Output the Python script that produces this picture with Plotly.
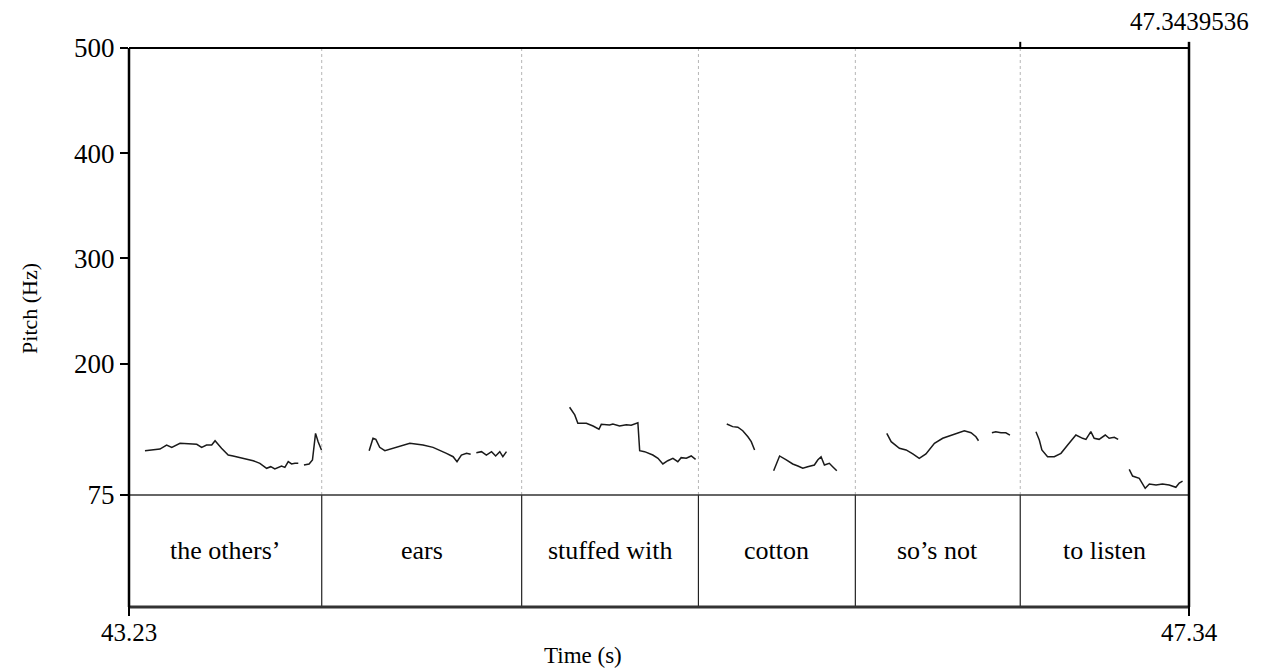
import plotly.graph_objects as go

# ---------------- data ----------------
t_start = 43.23
t_end = 47.3439536
tick_left_label = "43.23"
tick_right_label = "47.34"
cursor_label = "47.3439536"

y_ticks = [75, 200, 300, 400, 500]
y_min_pitch = 75
y_max_pitch = 500

word_labels = ["the others\u2019", "ears", "stuffed with", "cotton", "so\u2019s not", "to listen"]
word_bounds = [43.23, 43.978, 44.754, 45.440, 46.049, 46.689, 47.3439536]

# pitch contours (None = unvoiced gap)
w1_t = [43.292, 43.311, 43.350, 43.376, 43.396, 43.428, 43.467, 43.493, 43.512, 43.531, 43.551, 43.564,
        43.589, 43.615, 43.634, 43.673, 43.712, 43.738, 43.764, 43.780, 43.796, 43.822, 43.835, 43.848,
        43.861, 43.874, 43.887, None, 43.909, 43.929, 43.942, 43.954, 43.964, 43.977]
w1_hz = [117.1, 117.8, 118.7, 122.5, 120.3, 124.2, 123.2, 123.2, 120.3, 122.5, 122.5, 126.6,
         119.4, 113.0, 112.1, 109.9, 107.6, 105.1, 100.4, 101.9, 99.7, 102.6, 101.3, 106.7,
         104.5, 105.1, 105.1, None, 103.5, 104.5, 108.3, 133.6, 125.7, 117.8]

w2_t = [44.162, 44.177, 44.188, 44.203, 44.223, 44.255, 44.320, 44.371, 44.410, 44.462, 44.488, 44.503,
        44.520, 44.540, 44.556, None, 44.578, 44.598, 44.617, 44.637, 44.653, 44.669, 44.681, 44.695]
w2_hz = [117.1, 128.9, 127.9, 120.3, 117.1, 119.4, 124.2, 122.5, 120.3, 114.6, 111.4, 106.7,
         113.0, 114.6, 113.7, None, 115.2, 116.2, 113.0, 116.2, 112.1, 116.2, 111.4, 116.2]

w3_t = [44.940, 44.960, 44.972, 45.005, 45.031, 45.054, 45.063, 45.095, 45.108, 45.134, 45.160, 45.179,
        45.205, 45.212, 45.231, 45.263, 45.283, 45.302, 45.321, 45.341, 45.360, 45.373, 45.393, 45.412, 45.429]
w3_hz = [158.4, 151.1, 143.2, 143.2, 140.6, 137.5, 142.2, 141.6, 142.5, 140.6, 141.8, 141.3,
         143.7, 117.1, 116.2, 113.0, 109.9, 104.5, 107.6, 109.9, 106.7, 110.5, 109.9, 112.1, 108.8]

w4_t = [45.550, 45.573, 45.593, 45.612, 45.632, 45.645, 45.658, None,
        45.732, 45.755, 45.781, 45.806, 45.826, 45.845, 45.864, 45.890, 45.903, 45.916, 45.929, 45.948, 45.961, 45.977]
w4_hz = [142.5, 140.0, 139.4, 136.1, 130.4, 125.7, 117.8, None,
         98.1, 112.1, 108.3, 104.5, 102.6, 100.4, 101.9, 103.5, 108.3, 111.4, 103.5, 105.1, 101.9, 98.1]

w5_t = [46.171, 46.188, 46.220, 46.246, 46.272, 46.297, 46.323, 46.356, 46.388, 46.414, 46.440, 46.472,
        46.498, 46.517, 46.527, None, 46.579, 46.594, 46.614, 46.633, 46.649]
w5_hz = [133.6, 125.7, 119.4, 117.8, 114.0, 109.9, 114.0, 124.2, 128.9, 131.1, 133.6, 136.1,
         134.2, 130.4, 126.6, None, 134.2, 135.2, 134.2, 134.2, 132.0]

w6_t = [46.750, 46.763, 46.773, 46.795, 46.821, 46.847, 46.873, 46.905, 46.931, 46.944, 46.963, 46.976,
        46.995, 47.019, 47.034, 47.054, 47.069, None,
        47.112, 47.125, 47.151, 47.174, 47.190, 47.216, 47.241, 47.267, 47.293, 47.306, 47.319]
w6_hz = [135.2, 127.3, 117.8, 111.4, 111.4, 114.6, 122.5, 132.0, 128.9, 127.9, 135.2, 128.9,
         127.9, 132.0, 128.9, 129.9, 127.9, None,
         99.4, 93.0, 90.9, 81.4, 85.4, 84.5, 85.4, 84.5, 82.3, 86.3, 88.2]

contours = [(w1_t, w1_hz), (w2_t, w2_hz), (w3_t, w3_hz), (w4_t, w4_hz), (w5_t, w5_hz), (w6_t, w6_hz)]

# ---------------- figure ----------------
FONT = "Liberation Serif, Times New Roman, serif"
tier_bottom = -31.5  # extend y range below 75 Hz for the text tier
tier_mid = (y_min_pitch + tier_bottom) / 2

fig = go.Figure()
for t, hz in contours:
    fig.add_trace(go.Scatter(x=t, y=hz, mode="lines", connectgaps=False,
                             line=dict(color="#1a1a1a", width=1.5), showlegend=False,
                             hoverinfo="skip"))

shapes = []
# interval boundaries: dotted grey in pitch area, solid black in tier
for b in word_bounds[1:-1]:
    shapes.append(dict(type="line", xref="x", yref="y", x0=b, x1=b, y0=y_min_pitch, y1=y_max_pitch,
                       line=dict(color="#b5b5b5", width=1, dash="dot")))
    shapes.append(dict(type="line", xref="x", yref="y", x0=b, x1=b, y0=tier_bottom, y1=y_min_pitch,
                       line=dict(color="#222222", width=1.2)))
# 75 Hz line / tier top
shapes.append(dict(type="line", xref="paper", yref="y", x0=0, x1=1, y0=y_min_pitch, y1=y_min_pitch,
                   line=dict(color="#333333", width=1.5)))
# frame (paper refs so the strokes are not clipped)
shapes.append(dict(type="line", xref="paper", yref="paper", x0=0, x1=1, y0=1, y1=1,
                   line=dict(color="black", width=2)))
shapes.append(dict(type="line", xref="paper", yref="paper", x0=0, x1=1, y0=0, y1=0,
                   line=dict(color="#333333", width=3)))
shapes.append(dict(type="line", xref="paper", yref="paper", x0=0, x1=0, y0=0, y1=1,
                   line=dict(color="black", width=2.5)))
shapes.append(dict(type="line", xref="paper", yref="paper", x0=1, x1=1, y0=0, y1=1,
                   line=dict(color="black", width=2.5)))
# top cursor ticks
shapes.append(dict(type="line", xref="x", yref="paper", x0=word_bounds[5], x1=word_bounds[5], y0=1, y1=1.011,
                   line=dict(color="black", width=2)))
shapes.append(dict(type="line", xref="paper", yref="paper", x0=1, x1=1, y0=1, y1=1.011,
                   line=dict(color="black", width=2.5)))
# bottom x ticks
shapes.append(dict(type="line", xref="paper", yref="paper", x0=0, x1=0, y0=0, y1=-0.016,
                   line=dict(color="black", width=2)))
shapes.append(dict(type="line", xref="paper", yref="paper", x0=1, x1=1, y0=0, y1=-0.016,
                   line=dict(color="black", width=2)))

annotations = []
for i, lab in enumerate(word_labels):
    xm = (word_bounds[i] + word_bounds[i + 1]) / 2
    annotations.append(dict(x=xm, y=tier_mid, xref="x", yref="y", text=lab, showarrow=False,
                            font=dict(family=FONT, size=26, color="black")))
annotations.append(dict(x=0, y=-0.045, xref="paper", yref="paper", text=tick_left_label, showarrow=False,
                        xanchor="center", yanchor="middle", font=dict(family=FONT, size=25, color="black")))
annotations.append(dict(x=1, y=-0.045, xref="paper", yref="paper", text=tick_right_label, showarrow=False,
                        xanchor="center", yanchor="middle", font=dict(family=FONT, size=25, color="black")))
annotations.append(dict(x=0.428, y=-0.0875, xref="paper", yref="paper", text="Time (s)", showarrow=False,
                        xanchor="center", yanchor="middle", font=dict(family=FONT, size=23, color="black")))
annotations.append(dict(x=1, y=1.047, xref="paper", yref="paper", text=cursor_label, showarrow=False,
                        xanchor="center", yanchor="middle", font=dict(family=FONT, size=25, color="black")))
annotations.append(dict(x=-0.0934, y=0.535, xref="paper", yref="paper", text="Pitch (Hz)", showarrow=False,
                        xanchor="center", yanchor="middle",
                        textangle=-90, font=dict(family=FONT, size=22, color="black")))

fig.update_layout(
    width=1267, height=670,
    margin=dict(l=129, r=78, t=48, b=63),
    paper_bgcolor="white", plot_bgcolor="white",
    shapes=shapes, annotations=annotations,
    xaxis=dict(range=[t_start, t_end], showgrid=False, zeroline=False, showline=False,
               showticklabels=False, ticks=""),
    yaxis=dict(range=[tier_bottom, y_max_pitch], showgrid=False, zeroline=False, showline=False,
               tickvals=y_ticks, ticktext=[str(v) for v in y_ticks], ticks="outside", ticklen=8,
               tickwidth=2, tickcolor="black", tickfont=dict(family=FONT, size=27, color="black")),
)

fig.write_html("out.html")
